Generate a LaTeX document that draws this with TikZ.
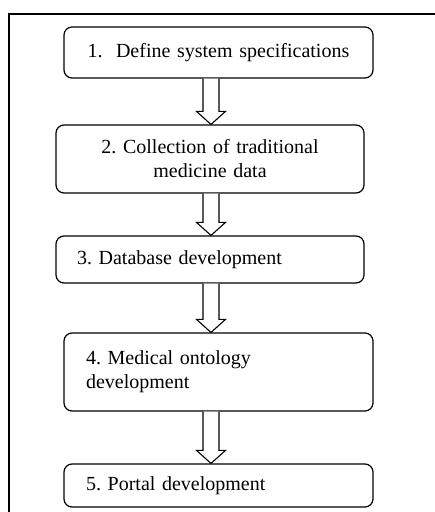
\documentclass[tikz,border=0pt]{standalone}
\usepackage{fontspec}
\setmainfont{Liberation Serif}
\usetikzlibrary{calc}
\frenchspacing
\tikzset{
  stepbox/.style={draw=black, line width=1.2pt, rounded corners=8pt, rectangle,
    inner ysep=0pt, font=\fontsize{20}{24}\selectfont},
  centerbox/.style={stepbox, align=center, inner xsep=8pt},
  leftbox/.style={stepbox, align=left},
  flowarrow/.style={draw=black, line width=1.1pt, fill=white, line join=miter},
  frameline/.style={draw=black, line width=1.3pt}
}
\newcommand\flowarr[2]{%
  \draw[flowarrow] ($(#1.south -| ax)+(-8,0)$) -- ($(#2.north -| ax)+(-8,-13)$)
    -- ($(#2.north -| ax)+(-14.5,-13)$) -- (#2.north -| ax)
    -- ($(#2.north -| ax)+(14.5,-13)$) -- ($(#2.north -| ax)+(8,-13)$)
    -- ($(#1.south -| ax)+(8,0)$);
}
\begin{document}
\begin{tikzpicture}[x=1pt, y=-1pt]
\useasboundingbox (0,0) rectangle (435,512);
% outer frame (right and bottom edges lie outside the picture)
\coordinate (ftl) at (9,14);
\coordinate (ftr) at (436,14);
\coordinate (fbl) at (9,513);
\draw[frameline] (ftr) -- (ftl) -- (fbl);
\coordinate (ax) at (211,0);
\node[centerbox, minimum width=309pt, minimum height=51pt, text width=293pt] (s1) at (218.5,52.5) {1.\ \ Define system specifications};
\node[centerbox, minimum width=308pt, minimum height=68pt, text width=292pt] (s2) at (210,159) {2. Collection of traditional\\medicine data};
\node[leftbox, inner xsep=21pt, minimum width=308pt, minimum height=47pt, text width=266pt] (s3) at (210,259.5) {3. Database development};
\node[leftbox, inner xsep=22pt, minimum width=309pt, minimum height=78pt, text width=265pt] (s4) at (218.5,372) {4. Medical ontology\\development};
\node[leftbox, inner xsep=22pt, minimum width=309pt, minimum height=43pt, text width=265pt] (s5) at (218.5,485.5) {5. Portal development};
\flowarr{s1}{s2}
\flowarr{s2}{s3}
\flowarr{s3}{s4}
\flowarr{s4}{s5}
\end{tikzpicture}
\end{document}
